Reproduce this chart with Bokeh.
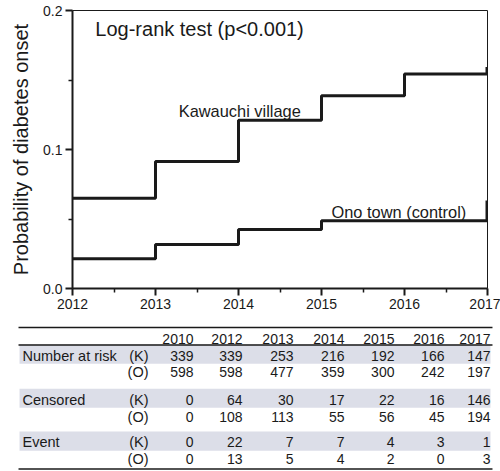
from bokeh.plotting import figure
from bokeh.models import Range1d, FixedTicker, PrintfTickFormatter, ColumnDataSource, Label
from bokeh.core.properties import value
from bokeh.embed import file_html
from bokeh.resources import INLINE

# ---------------- data ----------------
years = [2012, 2013, 2014, 2015, 2016, 2017]
kawauchi = [0.065, 0.0914, 0.121, 0.1386, 0.1544, 0.1544]
ono = [0.0214, 0.0317, 0.0424, 0.0487, 0.0487, 0.0487]
kawauchi_censor = [0.1544, 0.1594]
ono_censor = [0.0489, 0.0633]
censor_x = 2016.985

table_years = ["2010", "2012", "2013", "2014", "2015", "2016", "2017"]
nar_k = [339, 339, 253, 216, 192, 166, 147]
nar_o = [598, 598, 477, 359, 300, 242, 197]
cens_k = [0, 64, 30, 17, 22, 16, 146]
cens_o = [0, 108, 113, 55, 56, 45, 194]
event_k = [0, 22, 7, 7, 4, 3, 1]
event_o = [0, 13, 5, 4, 2, 0, 3]

group_labels = ["Number at risk", "Censored", "Event"]

FONT = "Liberation Sans"
INK = "#1a1a1a"

# ---------------- survival plot ----------------
p = figure(width=500, height=471, x_range=Range1d(2012, 2017), y_range=Range1d(0, 0.2),
           output_backend="svg", toolbar_location=None,
           min_border_left=72, min_border_right=13, min_border_top=10, min_border_bottom=183)
p.xgrid.visible = False
p.ygrid.visible = False
p.outline_line_color = INK
p.outline_line_width = 1
p.background_fill_color = "white"
p.border_fill_color = "white"

p.xaxis.ticker = FixedTicker(ticks=years, minor_ticks=[y + 0.5 for y in years[:-1]])
p.yaxis.ticker = FixedTicker(ticks=[0.0, 0.1, 0.2], minor_ticks=[0.05, 0.15])
p.yaxis.formatter = PrintfTickFormatter(format="%.1f")
for ax in (p.xaxis, p.yaxis):
    ax.axis_line_width = 2
    ax.axis_line_color = INK
    ax.major_tick_line_width = 2
    ax.major_tick_line_color = INK
    ax.major_tick_out = 7
    ax.major_tick_in = 0
    ax.minor_tick_line_width = 1.5
    ax.minor_tick_line_color = INK
    ax.minor_tick_out = 4
    ax.minor_tick_in = 0
    ax.major_label_text_font = FONT
    ax.major_label_text_font_size = "14px"
    ax.major_label_text_color = INK
    ax.major_label_standoff = 3
p.yaxis.axis_label = "Probability of diabetes onset"
p.yaxis.axis_label_text_font = FONT
p.yaxis.axis_label_text_font_size = "20px"
p.yaxis.axis_label_text_font_style = "normal"
p.yaxis.axis_label_text_color = INK
p.yaxis.axis_label_standoff = 8

p.step(x=years, y=kawauchi, mode="after", line_width=3, line_color=INK)
p.step(x=years, y=ono, mode="after", line_width=3, line_color=INK)
p.segment(x0=[censor_x, censor_x], y0=[kawauchi_censor[0], ono_censor[0]],
          x1=[censor_x, censor_x], y1=[kawauchi_censor[1], ono_censor[1]],
          line_width=1.5, line_color=INK)

for txt, x, y, size in [("Log-rank test (p<0.001)", 2012.275, 0.1868, "20px"),
                        ("Kawauchi village", 2013.28, 0.1278, "16.4px"),
                        ("Ono town (control)", 2015.12, 0.0552, "16.4px")]:
    p.add_layout(Label(x=x, y=y, text=txt, text_font=FONT, text_font_size=size,
                       text_color=INK, text_baseline="alphabetic", text_align="left"))

# ---------------- number table (below the plot, own scales) ----------------
# x: table column units, y: table row units (downwards)
p.extra_x_ranges = {"tbl": Range1d(-2.4444, 5.9394)}
p.extra_y_ranges = {"tbl": Range1d(-3.0606, -19.909)}

col_x = [0.0, 0.99, 2.02, 3.05, 4.06, 5.07, 6.0]
row_y = [1.0, 2.0, 3.67, 4.7, 6.27, 7.27]
rows = [nar_k, nar_o, cens_k, cens_o, event_k, event_o]
header_y = 0.0
rule_y = [-0.70, 0.36, 7.88]
left_x = -3.535
shade_left, shade_right = -3.515, 6.0
rule_right = 6.04
label_x = -3.455
tag_x = -0.909

shade = p.quad(left=shade_left, right=shade_right,
               top=[row_y[i] - 0.66 for i in (0, 2, 4)],
               bottom=[row_y[i] + 0.5 for i in (0, 2, 4)],
               fill_color="#dcdee8", line_color=None,
               x_range_name="tbl", y_range_name="tbl")
shade.level = "overlay"

rules = p.segment(x0=[left_x] * 3, x1=[rule_right] * 3, y0=rule_y, y1=rule_y,
                  line_width=1.5, line_color=INK, x_range_name="tbl", y_range_name="tbl")
rules.level = "overlay"

xs, ys, ts = [], [], []
for c, yr in enumerate(table_years):
    xs.append(col_x[c]); ys.append(header_y); ts.append(yr)
for r, vals in enumerate(rows):
    for c, v in enumerate(vals):
        xs.append(col_x[c]); ys.append(row_y[r]); ts.append(str(v))

tx, ty, tt = [], [], []
for r in range(len(rows)):
    tx.append(tag_x); ty.append(row_y[r]); tt.append("(K)" if r % 2 == 0 else "(O)")

num_src = ColumnDataSource(dict(x=xs, y=ys, text=ts))
tag_src = ColumnDataSource(dict(x=tx, y=ty, text=tt))
left_src = ColumnDataSource(dict(x=[label_x] * 3, y=[row_y[0], row_y[2], row_y[4]], text=group_labels))

t1 = p.text(x="x", y="y", text="text", source=num_src, text_align="right",
            text_baseline="middle", text_font=value(FONT), text_font_size="14px",
            text_color=INK, x_range_name="tbl", y_range_name="tbl")
t1.level = "overlay"
t3 = p.text(x="x", y="y", text="text", source=tag_src, text_align="right",
            text_baseline="middle", text_font=value(FONT), text_font_size="14.5px",
            text_color=INK, x_range_name="tbl", y_range_name="tbl")
t3.level = "overlay"
t2 = p.text(x="x", y="y", text="text", source=left_src, text_align="left",
            text_baseline="middle", text_font=value(FONT), text_font_size="14.5px",
            text_color=INK, x_range_name="tbl", y_range_name="tbl")
t2.level = "overlay"

open("out.html", "w").write(file_html(p, INLINE))
